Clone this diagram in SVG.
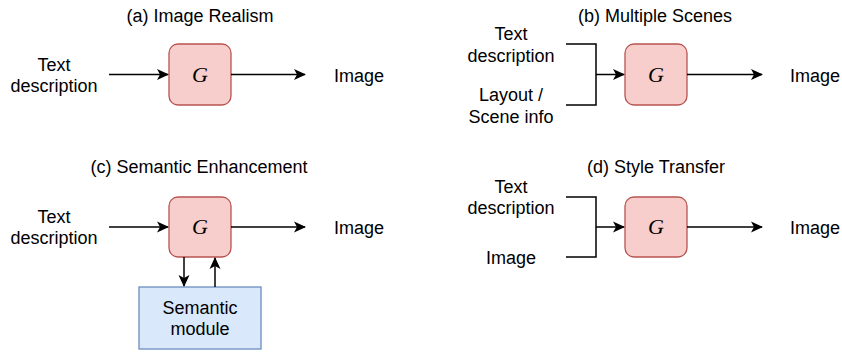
<svg xmlns="http://www.w3.org/2000/svg" width="842" height="352" viewBox="0 0 842 352">
<style>
text{font-family:"Liberation Sans",Arial,sans-serif;font-size:18px;fill:#000;text-anchor:middle}
.g{font-family:"Liberation Serif","DejaVu Serif",serif;font-style:italic;font-size:22px}
.gbox{fill:#f8cecc;stroke:#b85450;stroke-width:1.3}
.mod{fill:#dae8fc;stroke:#6c8ebf;stroke-width:1.3}
.ln{fill:none;stroke:#000;stroke-width:1.5}
.arr{fill:none;stroke:#000;stroke-width:1.5;marker-end:url(#ah)}
.lbl{text-anchor:start}
</style>
<defs>
<marker id="ah" viewBox="0 0 12 11" refX="11" refY="5.5" markerWidth="12" markerHeight="11" markerUnits="userSpaceOnUse" orient="auto" overflow="visible">
<path d="M0,0 L12,5.5 L0,11 L3,5.5 Z" fill="#000"/>
</marker>
</defs>
<g id="titles">
<text x="200" y="22">(a) Image Realism</text>
<text x="655" y="22">(b) Multiple Scenes</text>
<text x="199" y="173">(c) Semantic Enhancement</text>
<text x="656" y="173">(d) Style Transfer</text>
</g>
<g id="a-input"><text x="54" y="71">Text</text><text x="54" y="92">description</text></g>
<g id="a-G"><rect class="gbox" x="169" y="44" width="62" height="61" rx="9"/><text class="g" x="200" y="82">G</text></g>
<g id="a-output"><text class="lbl" x="334" y="82">Image</text></g>
<g id="b-input1"><text x="511" y="40">Text</text><text x="511" y="62">description</text></g>
<g id="b-input2"><text x="511" y="101">Layout /</text><text x="511" y="123">Scene info</text></g>
<g id="b-G"><rect class="gbox" x="625" y="44" width="62" height="61" rx="9"/><text class="g" x="656" y="82">G</text></g>
<g id="b-output"><text class="lbl" x="790" y="82">Image</text></g>
<g id="c-input"><text x="54" y="223">Text</text><text x="54" y="244">description</text></g>
<g id="c-G"><rect class="gbox" x="169" y="197" width="62" height="60" rx="9"/><text class="g" x="200" y="234">G</text></g>
<g id="c-output"><text class="lbl" x="334" y="234">Image</text></g>
<g id="c-module"><rect class="mod" x="139" y="287" width="122" height="62"/><text x="200" y="314">Semantic</text><text x="200" y="335">module</text></g>
<g id="d-input1"><text x="511" y="193">Text</text><text x="511" y="214">description</text></g>
<g id="d-input2"><text x="511" y="264">Image</text></g>
<g id="d-G"><rect class="gbox" x="625" y="197" width="62" height="60" rx="9"/><text class="g" x="656" y="234">G</text></g>
<g id="d-output"><text class="lbl" x="790" y="234">Image</text></g>
<g id="connectors">
<path class="arr" d="M109,74.5 H168"/>
<path class="arr" d="M231,74.5 H305"/>
<path class="ln" d="M566,44 H596 V105 H566"/>
<path class="arr" d="M596,74.5 H624"/>
<path class="arr" d="M687,74.5 H762"/>
<path class="arr" d="M109,227 H168"/>
<path class="arr" d="M231,227 H305"/>
<path class="arr" d="M184,257 V286"/>
<path class="arr" d="M215,287 V258"/>
<path class="ln" d="M566,197 H596 V257 H566"/>
<path class="arr" d="M596,227 H624"/>
<path class="arr" d="M687,227 H762"/>
</g>
</svg>
